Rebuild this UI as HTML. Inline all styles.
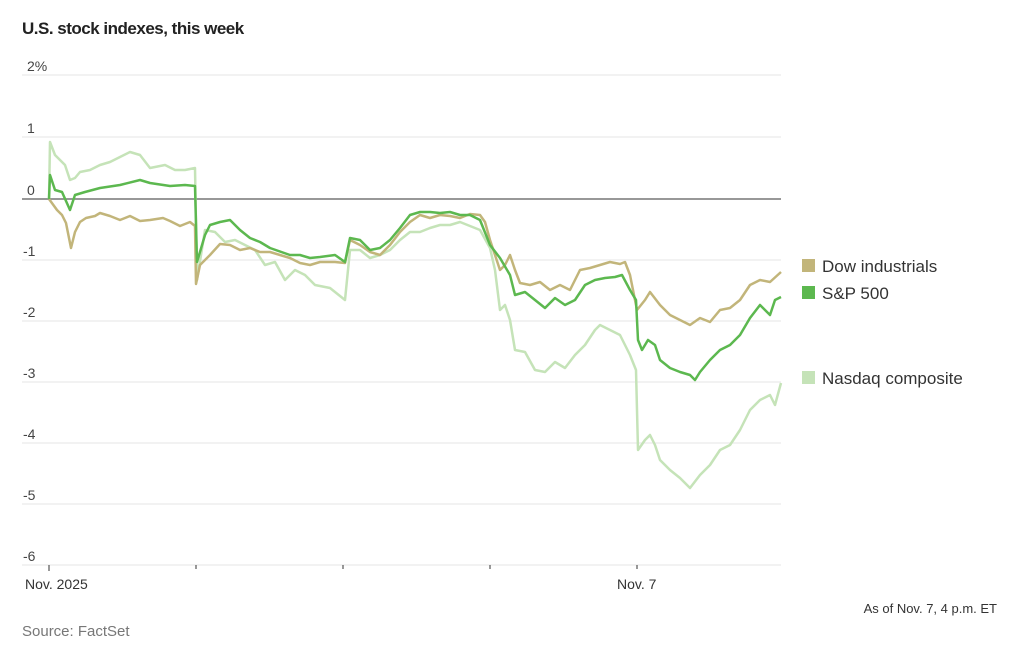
<!DOCTYPE html><html><head><style>body{margin:0;background:#fff;width:1017px;height:652px;overflow:hidden;font-family:"Liberation Sans",sans-serif}</style></head><body>
<svg width="1017" height="652" xmlns="http://www.w3.org/2000/svg" font-family="Liberation Sans, sans-serif">
<text x="22" y="34" font-size="17" font-weight="bold" fill="#222" letter-spacing="-0.5">U.S. stock indexes, this week</text>
<g stroke="#e6e6e6" stroke-width="1">
<line x1="22" x2="781" y1="75" y2="75"/><line x1="22" x2="781" y1="137" y2="137"/><line x1="22" x2="781" y1="260" y2="260"/><line x1="22" x2="781" y1="321" y2="321"/><line x1="22" x2="781" y1="382" y2="382"/><line x1="22" x2="781" y1="443" y2="443"/><line x1="22" x2="781" y1="504" y2="504"/><line x1="22" x2="781" y1="565" y2="565"/></g>
<line x1="22" x2="781" y1="199" y2="199" stroke="#777" stroke-width="1.5"/>
<g font-size="14" fill="#444"><text x="27" y="71">2%</text><text x="27" y="133">1</text><text x="27" y="195">0</text><text x="23" y="256">-1</text><text x="23" y="317">-2</text><text x="23" y="378">-3</text><text x="23" y="439">-4</text><text x="23" y="500">-5</text><text x="23" y="561">-6</text></g>
<g stroke="#333" stroke-width="1"><line x1="49" x2="49" y1="565" y2="571"/><line x1="196" x2="196" y1="565" y2="569"/><line x1="343" x2="343" y1="565" y2="569"/><line x1="490" x2="490" y1="565" y2="569"/><line x1="637" x2="637" y1="565" y2="569"/></g>
<g font-size="14" fill="#333"><text x="25" y="589">Nov. 2025</text><text x="617" y="589">Nov. 7</text><text x="997" y="613" text-anchor="end" font-size="13">As of Nov. 7, 4 p.m. ET</text></g>
<text x="22" y="636" font-size="15" fill="#777">Source: FactSet</text>
<g fill="none" stroke-width="2.5" stroke-linejoin="round">
<polyline stroke="#c5e3b8" points="49,199 50,142 55,155 65,165 70,180 75,178 80,172 90,170 100,165 110,162 120,157 130,152 140,155 150,168 165,165 175,170 185,170 195,168 197,280 205,230 215,232 225,242 235,240 245,245 255,250 265,265 275,262 285,280 295,270 305,275 315,285 330,288 345,300 350,250 360,250 370,258 380,255 390,250 400,240 410,232 420,232 430,228 440,225 450,225 460,222 470,226 480,230 490,248 495,270 500,310 505,305 510,320 515,350 525,352 535,370 545,372 555,362 565,368 575,355 585,345 595,330 600,325 610,330 620,335 630,355 636,370 638,450 645,440 650,435 655,445 660,460 670,470 680,478 690,488 700,475 710,465 720,450 730,445 740,430 750,410 760,400 770,395 775,405 781,383"/>
<polyline stroke="#c2b57a" points="49,199 57,210 62,215 66,223 71,248 75,232 80,222 86,218 95,216 100,213 110,216 120,220 130,216 140,221 150,220 163,218 170,221 180,226 190,222 195,226 196,284 200,265 210,255 220,244 230,245 240,250 250,248 260,252 270,252 280,255 290,258 300,263 310,265 320,262 335,262 345,263 350,240 360,245 370,252 380,255 390,245 400,232 410,222 420,215 430,218 440,215 450,216 460,218 470,214 480,215 485,222 490,240 500,270 505,265 510,255 515,270 520,283 530,285 540,282 550,290 560,285 570,290 580,270 590,268 600,265 610,262 620,264 625,262 630,275 637,310 645,300 650,292 660,305 670,315 680,320 690,325 700,318 710,322 720,310 730,308 740,300 750,285 760,280 770,282 781,272"/>
<polyline stroke="#5cb84f" points="49,199 50,175 55,190 62,192 70,210 75,195 85,192 100,188 120,185 140,180 150,183 170,186 185,185 195,186 197,262 205,235 210,225 220,222 230,220 240,230 250,238 260,242 270,248 290,255 300,255 310,258 320,257 335,255 345,262 350,238 360,240 370,250 380,248 390,240 400,228 410,215 420,212 430,212 440,213 450,212 460,215 470,215 480,220 490,245 500,258 510,275 515,295 525,292 535,300 545,308 555,298 565,305 575,300 585,285 595,280 605,278 615,277 622,275 630,290 636,300 638,340 642,350 648,340 655,345 660,360 670,368 680,372 690,375 695,380 700,372 710,360 720,350 730,345 740,335 750,318 760,305 770,315 775,300 781,297"/>
</g>
<rect x="802" y="259" width="13" height="13" fill="#c2b57a"/><text x="822" y="272" font-size="17" fill="#333">Dow industrials</text>
<rect x="802" y="286" width="13" height="13" fill="#5cb84f"/><text x="822" y="299" font-size="17" fill="#333">S&amp;P 500</text>
<rect x="802" y="371" width="13" height="13" fill="#c5e3b8"/><text x="822" y="384" font-size="17" fill="#333">Nasdaq composite</text>
</svg></body></html>
